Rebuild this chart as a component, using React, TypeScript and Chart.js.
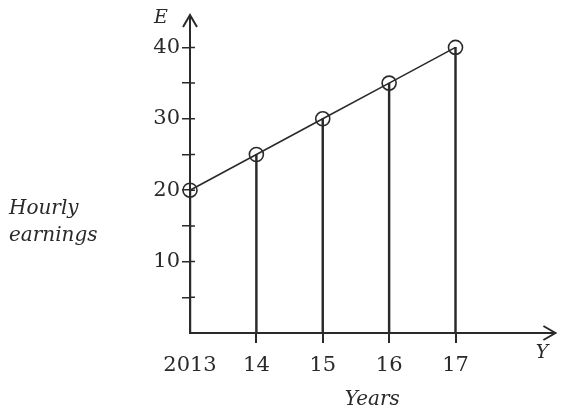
import React, { useEffect, useRef } from 'react';
import { Chart, registerables } from 'chart.js';

Chart.register(...registerables);

const years = [2013, 2014, 2015, 2016, 2017];
const yearLabels = ['2013', '14', '15', '16', '17'];
const earnings = [20, 25, 30, 35, 40];
const yTickLabels = [10, 20, 30, 40];
const yMinorTicks = [5, 10, 15, 20, 25, 30, 35, 40];

const INK = '#2a2a2a';
const CLEAR = 'rgba(0,0,0,0)';
const SERIF = "'DejaVu Serif', serif";

const decorPlugin = {
  id: 'decor',
  afterDraw(chart: any) {
    const { ctx, chartArea, scales } = chart;
    const { left, right, top, bottom } = chartArea;
    ctx.save();
    ctx.strokeStyle = INK;
    ctx.fillStyle = INK;
    ctx.lineWidth = 1.5;
    // inner part of y tick marks
    ctx.beginPath();
    yMinorTicks.forEach((v) => {
      const py = scales.y.getPixelForValue(v);
      ctx.moveTo(left, py);
      ctx.lineTo(left + 5, py);
    });
    ctx.stroke();
    // arrows
    ctx.lineWidth = 2;
    ctx.beginPath();
    ctx.moveTo(left - 7, top + 11);
    ctx.lineTo(left, top - 1);
    ctx.lineTo(left + 7, top + 11);
    ctx.moveTo(right - 11, bottom - 7);
    ctx.lineTo(right + 1, bottom);
    ctx.lineTo(right - 11, bottom + 7);
    ctx.stroke();
    // texts
    ctx.textBaseline = 'middle';
    ctx.textAlign = 'center';
    ctx.font = `italic 19px ${SERIF}`;
    ctx.fillText('E', 161, 18);
    ctx.fillText('Y', 542, 353);
    ctx.textAlign = 'left';
    ctx.font = `italic 20px ${SERIF}`;
    ctx.fillText('Hourly', 9, 209);
    ctx.fillText('earnings', 9, 236);
    ctx.restore();
  },
};

export default function App() {
  const ref = useRef<HTMLCanvasElement | null>(null);

  useEffect(() => {
    if (!ref.current) return;
    const points = years.map((x, i) => ({ x, y: earnings[i] }));
    const chart = new Chart(ref.current, {
      type: 'line',
      data: {
        datasets: [
          {
            type: 'line',
            data: points,
            clip: false,
            borderColor: INK,
            borderWidth: 1.6,
            tension: 0,
            pointRadius: 7,
            pointBorderWidth: 1.6,
            pointBorderColor: INK,
            pointBackgroundColor: CLEAR,
            order: 1,
          } as any,
          {
            type: 'bar',
            data: points,
            backgroundColor: INK,
            borderWidth: 0,
            barThickness: 1.8,
            grouped: false,
            order: 2,
          } as any,
        ],
      },
      plugins: [decorPlugin],
      options: {
        animation: false,
        responsive: false,
        devicePixelRatio: 1,
        layout: { padding: { top: 16, right: 8, left: 0, bottom: 0 } },
        plugins: { legend: { display: false }, tooltip: { enabled: false } },
        scales: {
          x: {
            type: 'linear',
            offset: false,
            min: 2013,
            max: 2018.49,
            afterFit: (s: any) => {
              s.height = 81;
            },
            ticks: {
              stepSize: 1,
              includeBounds: false,
              autoSkip: false,
              maxRotation: 0,
              padding: 10,
              color: INK,
              font: { family: SERIF, size: 21 },
              callback: (v: any) => {
                const i = years.indexOf(Number(v));
                return i >= 0 ? yearLabels[i] : '';
              },
            },
            grid: {
              offset: false,
              drawOnChartArea: false,
              tickLength: 10,
              lineWidth: 2,
              color: (c: any) => (c.tick && years.includes(c.tick.value) && c.tick.value !== 2013 ? INK : CLEAR),
            },
            border: { color: INK, width: 2 },
            title: {
              display: true,
              text: 'Years',
              color: INK,
              font: { family: SERIF, size: 20, style: 'italic' },
              padding: { top: 0, bottom: 2 },
            },
          },
          y: {
            type: 'linear',
            min: 0,
            max: 44.4,
            afterFit: (s: any) => {
              s.width = 190;
            },
            ticks: {
              stepSize: 5,
              includeBounds: false,
              autoSkip: false,
              padding: 2,
              color: INK,
              font: { family: SERIF, size: 21 },
              callback: (v: any) => (yTickLabels.includes(Number(v)) ? String(v) : ''),
            },
            grid: {
              drawOnChartArea: false,
              tickLength: 8,
              lineWidth: 1.5,
              color: (c: any) => (c.tick && c.tick.value > 0 ? INK : CLEAR),
            },
            border: { color: INK, width: 2 },
          },
        },
      } as any,
    });
    return () => chart.destroy();
  }, []);

  return (
    <div style={{ position: 'absolute', left: 0, top: 0, width: 563, height: 414, background: '#fff' }}>
      <canvas ref={ref} width={563} height={414} style={{ display: 'block' }} />
    </div>
  );
}
